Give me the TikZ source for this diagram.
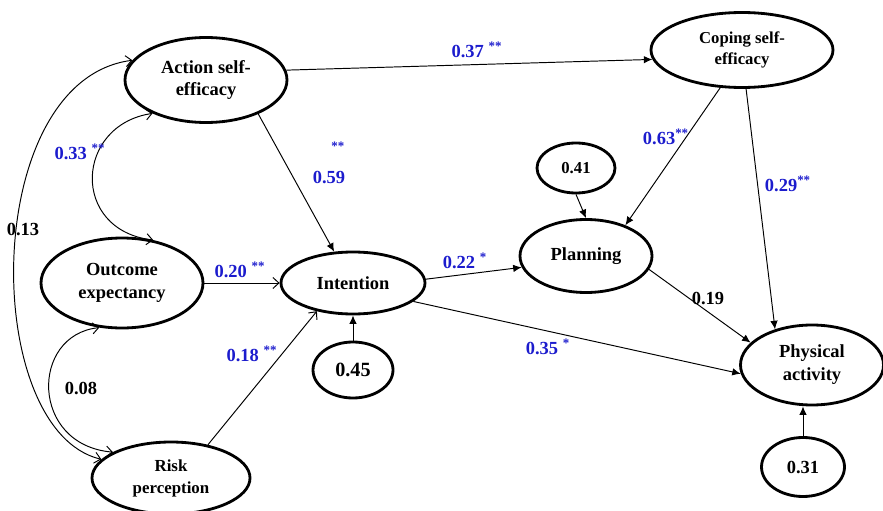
\documentclass[tikz,border=0pt]{standalone}
\usepackage{fontspec}
\setmainfont{Liberation Serif}
\usetikzlibrary{arrows.meta}
\usetikzlibrary{shapes.geometric}
\definecolor{coefblue}{RGB}{28,28,205}
\tikzset{latent/.style={ellipse, draw=black, line width=1.6pt, inner sep=0pt, align=center, font=\fontsize{10.5}{13}\selectfont\bfseries}, latent/.default={}}
\tikzset{resid/.style={latent, font=\fontsize{10.5}{13}\selectfont\bfseries}}
\tikzset{coef/.style={text=coefblue, inner sep=1pt, font=\fontsize{10.5}{12}\selectfont\bfseries}, plain/.style={coef, text=black}}
\tikzset{reg/.style={line width=0.55pt, -{Latex[length=1.7mm, width=1.5mm]}}, open/.style={line width=0.55pt, -{Straight Barb[length=1.2mm, width=2.2mm]}}}
\tikzset{cov/.style={line width=0.55pt, {Straight Barb[length=1.2mm, width=2.2mm]}-{Straight Barb[length=1.2mm, width=2.2mm]}}}

\begin{document}
\begin{tikzpicture}
	\useasboundingbox (0, 0) rectangle (17.66, -10.22);
	% latent variables
	\node[latent, minimum width=3.24cm, minimum height=1.70cm] (ase) at (4.12, -1.60) {Action self-\\efficacy};
	\node[latent, minimum width=3.64cm, minimum height=1.50cm, font=\fontsize{9.5}{12}\selectfont\bfseries] (cse) at (14.84, -1.00) {Coping self-\\efficacy};
	\node[latent, minimum width=3.24cm, minimum height=1.80cm] (oe) at (2.44, -5.66) {Outcome\\expectancy};
	\node[latent, minimum width=2.88cm, minimum height=1.24cm] (int) at (7.06, -5.66) {Intention};
	\node[latent, minimum width=3.16cm, minimum height=1.44cm, font=\fontsize{9.6}{12.5}\selectfont\bfseries] (rp) at (3.42, -9.56) {Risk\\perception};
	\node[latent, minimum width=2.64cm, minimum height=1.46cm] (pla) at (11.72, -5.12) {Planning};
	\node[latent, minimum width=2.86cm, minimum height=1.60cm] (pa) at (16.24, -7.30) {Physical\\activity};
	% residuals
	\node[resid, minimum width=1.60cm, minimum height=1.12cm, font=\fontsize{11.5}{13}\selectfont\bfseries] (e45) at (7.06, -7.40) {0.45};
	\node[resid, minimum width=1.56cm, minimum height=1.00cm, font=\fontsize{9.5}{12}\selectfont\bfseries] (e41) at (11.52, -3.36) {0.41};
	\node[resid, minimum width=1.66cm, minimum height=1.18cm] (e31) at (16.06, -9.34) {0.31};

	% paths
	\draw[reg] (ase.7) -- (cse.186);
	\draw[reg] (ase.-33) -- (int.121);
	\draw[reg] (cse.-120) -- (pla.38);
	\draw[reg] (cse.-84) -- (pa.136);
	\draw[reg] (e41.south) -- (pla.north);
	\draw[open] (oe.east) -- (int.west);
	\draw[open] (rp.42) -- (int.218);
	\draw[reg] (e45.north) -- (int.south);
	\draw[reg] (int.3) -- (pla.190);
	\draw[reg] (int.-17) -- (pa.187);
	\draw[reg] (pla.-12) -- (pa.160);
	\draw[reg] (e31.north) -- (e31.north |- pa.south);
	% correlations
	\draw[cov] (ase.212) .. controls (1.5, -2.5) and (1.4, -4.6) .. (oe.54);
	\draw[cov] (ase.165) .. controls (-0.4, -1.6) and (-0.4, -8.6) .. (rp.165);
	\draw[cov] (oe.243) .. controls (0.6, -6.7) and (0.6, -8.9) .. (rp.156);

	% coefficients
	\node[coef] (c37) at (9.54, -1.00) {0.37 \textsuperscript{**}};
	\node[coef, align=right] (c59) at (6.58, -3.26) {\textsuperscript{**}\\[3pt]0.59};
	\node[coef] (c33) at (1.60, -3.04) {0.33 \textsuperscript{**}};
	\node[plain] (c13) at (0.46, -4.58) {0.13};
	\node[coef] (c20) at (4.80, -5.40) {0.20 \textsuperscript{**}};
	\node[coef] (c18) at (5.04, -7.08) {0.18 \textsuperscript{**}};
	\node[plain] (c08) at (1.62, -7.76) {0.08};
	\node[coef] (c22) at (9.30, -5.22) {0.22 \textsuperscript{*}};
	\node[coef] (c35) at (10.96, -6.94) {0.35 \textsuperscript{*}};
	\node[plain] (c19) at (14.16, -5.96) {0.19};
	\node[coef] (c63) at (13.32, -2.74) {0.63\textsuperscript{**}};
	\node[coef] (c29) at (15.76, -3.68) {0.29\textsuperscript{**}};
\end{tikzpicture}
\end{document}
